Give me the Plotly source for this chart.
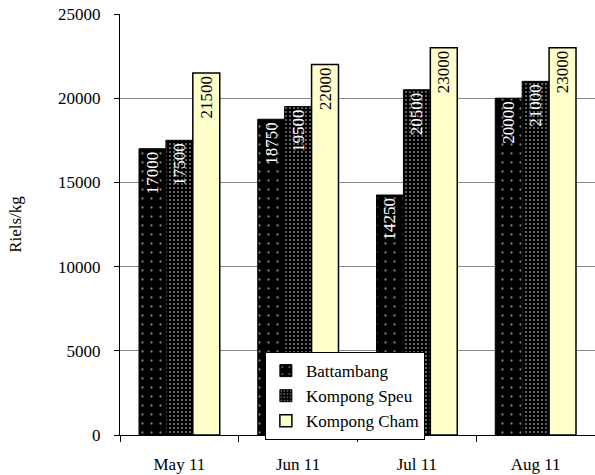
import plotly.graph_objects as go

months = ["May 11", "Jun 11", "Jul 11", "Aug 11"]
battambang = [17000, 18750, 14250, 20000]
kompong_speu = [17500, 19500, 20500, 21000]
kompong_cham = [21500, 22000, 23000, 23000]

font_family = "Liberation Serif"

fig = go.Figure()
fig.add_trace(go.Bar(
    name="Battambang", x=months, y=battambang,
    text=[str(v) for v in battambang],
    marker=dict(color="black", line=dict(color="black", width=1),
                pattern=dict(shape=".", fgcolor="white", bgcolor="black", size=9, solidity=0.05)),
    textfont=dict(color="white", size=17, family=font_family),
))
fig.add_trace(go.Bar(
    name="Kompong Speu", x=months, y=kompong_speu,
    text=[str(v) for v in kompong_speu],
    marker=dict(color="black", line=dict(color="black", width=1),
                pattern=dict(shape=".", fgcolor="white", bgcolor="black", size=4, solidity=0.2)),
    textfont=dict(color="white", size=17, family=font_family),
))
fig.add_trace(go.Bar(
    name="Kompong Cham", x=months, y=kompong_cham,
    text=[str(v) for v in kompong_cham],
    marker=dict(color="#FFFFCC", line=dict(color="black", width=1.5)),
    textfont=dict(color="black", size=17, family=font_family),
))
fig.update_traces(textposition="inside", textangle=-90, insidetextanchor="end",
                  constraintext="none", cliponaxis=False)

fig.update_layout(
    width=595, height=475,
    margin=dict(l=120, r=0, t=14, b=40),
    paper_bgcolor="white", plot_bgcolor="white",
    barmode="group", bargap=0.32, bargroupgap=0,
    font=dict(family=font_family, size=17, color="black"),
    showlegend=True,
    legend=dict(x=0.305, y=0.197, xanchor="left", yanchor="top",
                bgcolor="white", bordercolor="black", borderwidth=1,
                font=dict(size=17, family=font_family),
                tracegroupgap=0, itemwidth=30),
    xaxis=dict(showline=True, linecolor="black", linewidth=1, automargin=False,
               ticks="outside", tickson="boundaries", ticklen=6, tickcolor="black",
               ticklabelstandoff=14, tickfont=dict(size=17)),
    yaxis=dict(range=[0, 25000], dtick=5000, tickformat="d",
               showline=True, linecolor="black", linewidth=1, automargin=False,
               ticks="outside", ticklen=5, tickcolor="black", ticklabelstandoff=10,
               showgrid=True, gridcolor="#888888", gridwidth=1,
               zeroline=False, tickfont=dict(size=17),
               title=dict(text="Riels/kg", font=dict(size=17), standoff=32)),
)

fig.write_html("out.html", config={"displayModeBar": False},
               post_script="document.body.style.margin='0px';")
